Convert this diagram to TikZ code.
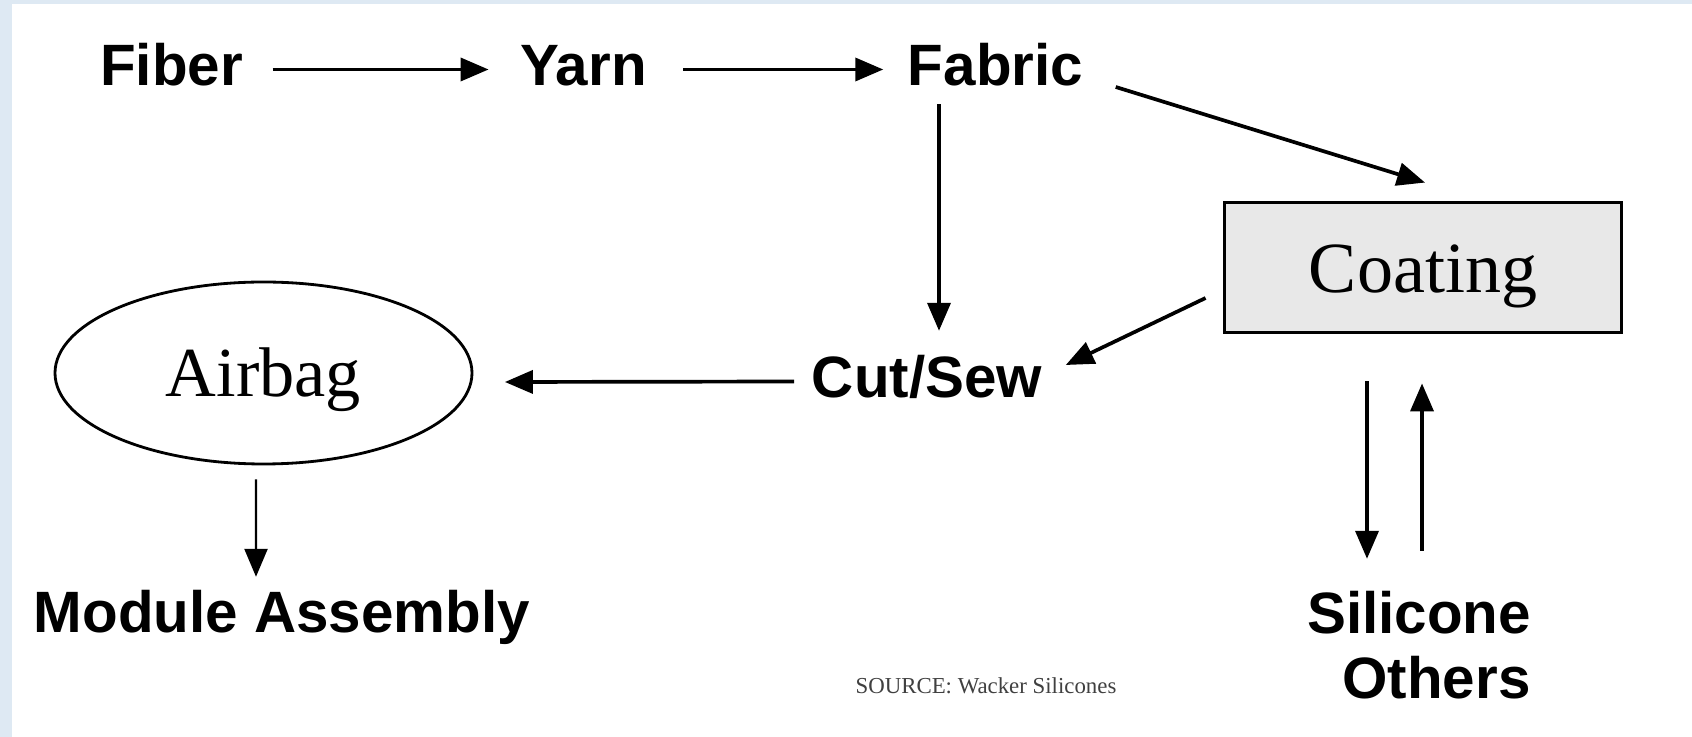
\documentclass[tikz,border=0pt]{standalone}
\usepackage{fontspec}
\setmainfont{Liberation Serif}
\setsansfont{Liberation Sans}
\usetikzlibrary{shapes.geometric, arrows.meta, calc}
\definecolor{frameblue}{RGB}{222,233,243}
\definecolor{boxgray}{RGB}{232,232,232}
\tikzstyle{word} = [font=\sffamily\bfseries\fontsize{16.6}{20}\selectfont, inner sep=0pt,
text height=0.43cm, text depth=0.11cm]
\tikzstyle{box} = [rectangle, draw=black, line width=1.1pt, fill=boxgray, minimum width=3.97cm,
minimum height=1.30cm, font=\fontsize{20.5}{24}\selectfont, text height=0.51cm, text depth=0cm]
\tikzstyle{bag} = [ellipse, draw=black, line width=0.8pt, minimum width=4.17cm, minimum height=1.82cm,
inner sep=0pt, font=\fontsize{20}{24}\selectfont, text height=0.48cm, text depth=0cm]
\tikzstyle{arrow} = [line width=1.05pt, -{Triangle[length=0.28cm, width=0.23cm]}]
\tikzstyle{thinarrow} = [line width=0.7pt, -{Triangle[length=0.28cm, width=0.23cm]}]

\begin{document}
\begin{tikzpicture}[node distance=4.12cm]

        % page and frame
        \fill [frameblue] (0,0) rectangle (16.92,-7.37);
        \fill [white] (0.12,-0.04) rectangle (16.92,-7.37);
        \useasboundingbox (0,0) rectangle (16.92,-7.37);

        \node (Fiber) [word] at (1.715,-0.695) {Fiber};
        \node (Yarn) [word, right of=Fiber] {Yarn};
        \node (Fabric) [word, right of=Yarn] {Fabric};

        \node (Coating) [box] at (14.23,-2.675) {Coating};
        \node (CutSew) [word] at (9.27,-3.815) {Cut/Sew};
        \node (Airbag) [bag] at (2.635,-3.73) {Airbag};

        \node (Module) [word] at (2.82,-6.165) {Module Assembly};
        \node (Silicone) [word] at (14.19,-6.175) {Silicone};
        \node (Others) [word] at (14.365,-6.825) {Others};

        \node (Source) [font=\fontsize{6.5}{8}\selectfont, text=black!75] at (9.86,-6.86) {SOURCE: Wacker Silicones};

        \draw [arrow] ([xshift=0.29cm]Fiber.east) -- ([xshift=-0.31cm]Yarn.west);
        \draw [arrow] ([xshift=0.36cm]Yarn.east) -- ([xshift=-0.24cm]Fabric.west);
        \draw [arrow] ([xshift=0.32cm, yshift=-0.175cm]Fabric.east) -- ([xshift=0.02cm, yshift=0.18cm]Coating.north);
        \draw [arrow] ([xshift=-0.565cm, yshift=-0.07cm]Fabric.south) -- ([xshift=0.12cm, yshift=0.23cm]CutSew.north);

        \draw [arrow] ([xshift=-0.17cm, yshift=-0.305cm]Coating.west) -- ([xshift=0.23cm, yshift=0.165cm]CutSew.east);
        \draw [arrow] ([xshift=-0.17cm]CutSew.west) -- ([xshift=0.315cm, yshift=-0.09cm]Airbag.east);
        \draw [thinarrow] ([xshift=-0.075cm, yshift=-0.14cm]Airbag.south) -- ([xshift=-0.26cm, yshift=0.12cm]Module.north);

        \draw [arrow] ([xshift=-0.56cm, yshift=-0.47cm]Coating.south) -- ([xshift=-0.52cm, yshift=0.31cm]Silicone.north);
        \draw [arrow] ([xshift=0.03cm, yshift=0.39cm]Silicone.north) -- ([xshift=-0.01cm, yshift=-0.49cm]Coating.south);

\end{tikzpicture}
\end{document}
